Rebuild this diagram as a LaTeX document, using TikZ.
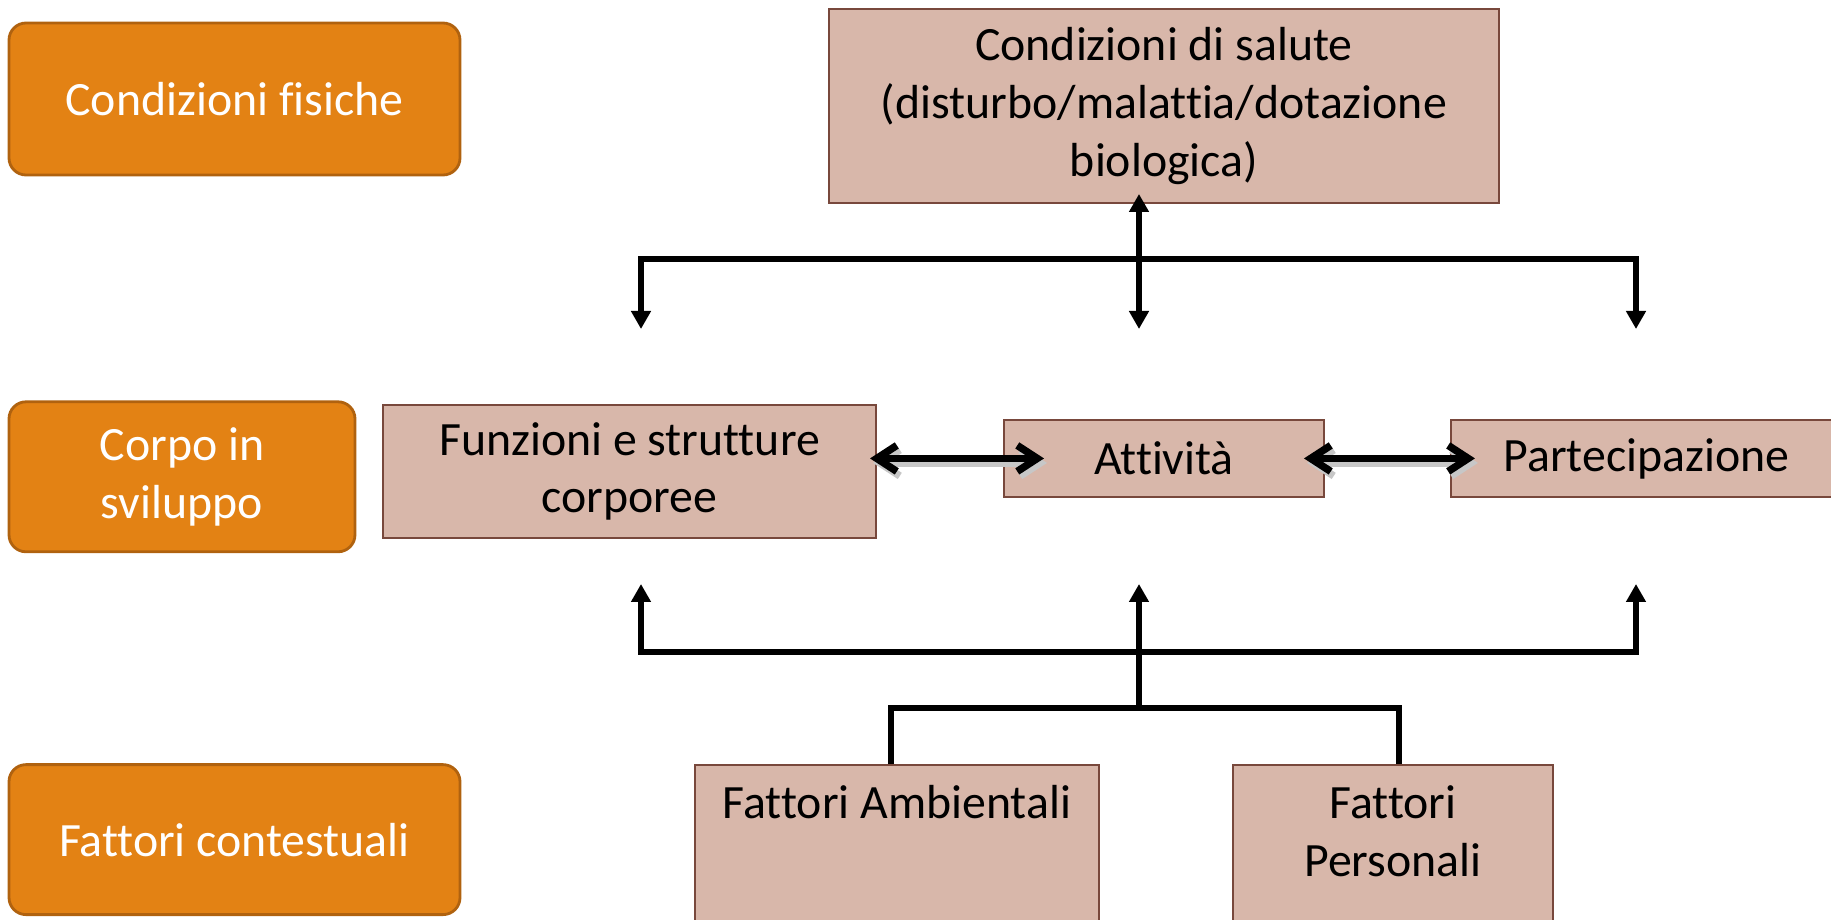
\documentclass[tikz,border=0pt]{standalone}
\usepackage{fontspec}
\setmainfont{Carlito}[Ligatures=NoCommon]
\usetikzlibrary{positioning,arrows.meta}
\definecolor{cOr}{RGB}{227,130,20}
\definecolor{cOrD}{RGB}{176,98,15}
\definecolor{cPk}{RGB}{216,183,170}
\definecolor{cBr}{RGB}{120,72,60}
\tikzset{sidebox/.style={
  shape=rectangle,
  rounded corners=0.34cm,
  draw=cOrD,
  fill=cOr,
  line width=1.6pt,
  minimum height=3cm,
  text=white,
  align=center,
  font=\fontsize{27.2}{32.8}\selectfont,
  }
}
\tikzset{icfbox/.style={
  shape=rectangle,
  draw=cBr,
  fill=cPk,
  line width=1.1pt,
  text=black,
  align=center,
  font=\fontsize{27.2}{32.8}\selectfont,
  }
}
\tikzset{lowbox/.style={
  icfbox,
  anchor=north,
  inner ysep=0.2cm,
  text height=0.88cm,
  text depth=3.6cm,
  }
}
\tikzset{bar/.style={
  line width=3.6pt,
  -{Triangle[length=0.36cm,width=0.38cm]},
  }
}
\tikzset{link/.style={
  line width=4.2pt,
  {Straight Barb[length=0.4cm,width=0.52cm]}-{Straight Barb[length=0.4cm,width=0.52cm]},
  }
}
\tikzset{linkshade/.style={
  link,
  draw=black!22,
  }
}

\begin{document}
\begin{tikzpicture}
  \useasboundingbox (0,0) rectangle (36.62,-18.4);

  % left column
  \node[sidebox, minimum width=9.02cm, minimum height=3.04cm] (fisiche) at (4.69,-1.98) {Condizioni fisiche};
  \node[sidebox, minimum width=6.92cm, below=4.48cm of fisiche.south west, anchor=north west] (sviluppo) {Corpo in\\sviluppo};
  \node[sidebox, minimum width=9.02cm, below=4.2cm of sviluppo.south west, anchor=north west] (contesto) {Fattori contestuali};

  % ICF boxes
  \node[icfbox, minimum width=13.4cm, minimum height=3.88cm] (salute) at (23.28,-2.12) {Condizioni di salute\\(disturbo/malattia/dotazione\\biologica)};
  \node[icfbox, minimum width=6.4cm, minimum height=1.54cm, below=4.3cm of salute] (attivita) {Attività};
  \node[icfbox, minimum width=9.86cm, minimum height=2.66cm, left=2.52cm of attivita, yshift=-0.26cm] (funzioni) {Funzioni e strutture\\corporee};
  \node[icfbox, minimum width=7.82cm, minimum height=1.54cm, right=2.5cm of attivita] (partecip) {Partecipazione};
  \node[lowbox, minimum width=8.08cm] (ambient) at (17.94,-15.28) {Fattori Ambientali};
  \node[lowbox, minimum width=6.4cm, text height=2.03cm, text depth=2.5cm] (personal) at (27.86,-15.28) {Fattori\\Personali};

  % hubs
  \coordinate (hubT) at (22.78,-5.18);
  \coordinate (dnL) at (12.82,-6.58);
  \coordinate (dnM) at (22.78,-6.58);
  \coordinate (dnR) at (32.72,-6.58);
  \coordinate (upL) at (12.82,-11.68);
  \coordinate (upM) at (22.78,-11.68);
  \coordinate (upR) at (32.72,-11.68);
  \coordinate (hubB) at (22.78,-13.04);
  \coordinate (hubC) at (22.78,-14.16);

  \draw[bar, {Triangle[length=0.36cm,width=0.38cm]}-{Triangle[length=0.36cm,width=0.38cm]}] ([xshift=-0.5cm,yshift=0.2cm]salute.south) -- (dnM);
  \draw[bar] (hubT) -| (dnL);
  \draw[bar] (hubT) -| (dnR);

  % shaded double arrows
  \draw[linkshade] ([xshift=-0.08cm,yshift=0.17cm]funzioni.east) -- ([xshift=0.88cm,yshift=-0.09cm]attivita.west);
  \draw[linkshade] ([xshift=-0.36cm,yshift=-0.09cm]attivita.east) -- ([xshift=0.56cm,yshift=-0.09cm]partecip.west);
  \draw[link] ([xshift=-0.14cm,yshift=0.26cm]funzioni.east) -- ([xshift=0.82cm]attivita.west);
  \draw[link] ([xshift=-0.42cm]attivita.east) -- ([xshift=0.5cm]partecip.west);

  \draw[bar] (hubB) -| (upL);
  \draw[bar] (hubB) -| (upR);
  \draw[bar] (hubC) -- (upM);
  \draw[line width=3.6pt] ([xshift=-0.12cm]ambient.north) |- (hubC) -| ([xshift=0.12cm]personal.north);
\end{tikzpicture}
\end{document}
